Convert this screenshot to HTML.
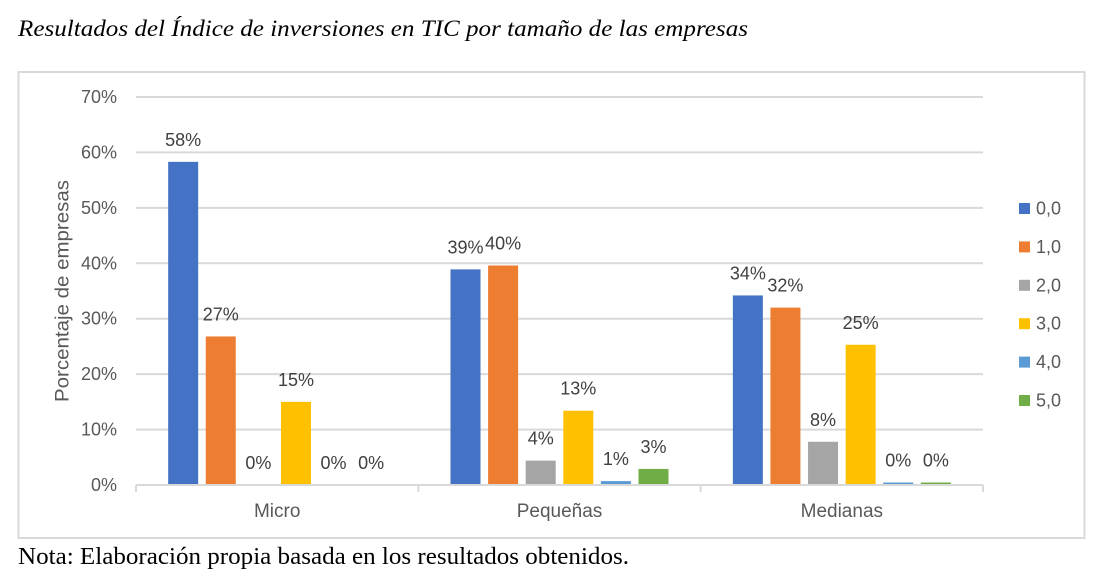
<!DOCTYPE html>
<html lang="es">
<head>
<meta charset="utf-8">
<title>Resultados del Índice de inversiones en TIC</title>
<style>
html,body{margin:0;padding:0;background:#fff;width:1094px;height:582px;overflow:hidden}
svg{display:block}
.sans{font-family:"Liberation Sans",sans-serif}
.serif{font-family:"Liberation Serif",serif}
</style>
</head>
<body>
<svg id="chart" width="1094" height="582" viewBox="0 0 1094 582" xmlns="http://www.w3.org/2000/svg">
  <text class="serif" x="18" y="36" font-size="23.5" font-style="italic" fill="#000" textLength="730" lengthAdjust="spacingAndGlyphs">Resultados del Índice de inversiones en TIC por tamaño de las empresas</text>
  <rect x="18.5" y="72" width="1066" height="466" fill="#fff" stroke="#d9d9d9" stroke-width="2"/>
  <g id="grid"></g>
  <g id="bars"></g>
  <g id="labels"></g>
  <g id="axis"></g>
  <g id="legend"></g>
  <text class="sans" transform="translate(68.5,291) rotate(-90)" text-anchor="middle" font-size="19" fill="#595959" textLength="222" lengthAdjust="spacingAndGlyphs">Porcentaje de empresas</text>
  <text class="serif" x="18" y="564" font-size="24" fill="#000" textLength="611" lengthAdjust="spacingAndGlyphs">Nota: Elaboración propia basada en los resultados obtenidos.</text>
</svg>
<script>
const categories = ['Micro', 'Pequeñas', 'Medianas'];
const seriesNames = ['0,0', '1,0', '2,0', '3,0', '4,0', '5,0'];
const seriesColors = ['#4472c4', '#ed7d31', '#a5a5a5', '#ffc000', '#5b9bd5', '#70ad47'];
const series0 = [58.3, 38.9, 34.2];
const series1 = [26.8, 39.6, 32.0];
const series2 = [0, 4.4, 7.8];
const series3 = [15.0, 13.4, 25.3];
const series4 = [0, 0.7, 0.45];
const series5 = [0, 2.9, 0.45];
const yTicks = [0, 10, 20, 30, 40, 50, 60, 70];

const allSeries = [series0, series1, series2, series3, series4, series5];
const NS = 'http://www.w3.org/2000/svg';
const plot = {left: 136, right: 983, top: 97, bottom: 485, max: 70};
const y = v => plot.bottom - (v / plot.max) * (plot.bottom - plot.top);
const catW = (plot.right - plot.left) / categories.length;
const barStep = 37.6;
const barW = 30;
const barX = (c, s) => plot.left + catW * (c + 0.5) + (s - (seriesNames.length - 1) / 2) * barStep - barW / 2;

function make(tag, attrs, parent, txt) {
  const el = document.createElementNS(NS, tag);
  for (const k in attrs) el.setAttribute(k, attrs[k]);
  if (txt !== undefined) el.textContent = txt;
  parent.appendChild(el);
  return el;
}
const sans = '"Liberation Sans",sans-serif';
const gridG = document.getElementById('grid');
const barsG = document.getElementById('bars');
const labelsG = document.getElementById('labels');
const axisG = document.getElementById('axis');
const legendG = document.getElementById('legend');

yTicks.forEach(t => {
  if (t > 0) {
    const line = make('line', {x1: plot.left, x2: plot.right, y1: y(t), y2: y(t), stroke: '#d9d9d9', 'stroke-width': 2}, gridG);
    
    
  }
  const label = make('text', {x: 117, y: y(t) + 6, 'text-anchor': 'end', 'font-size': 18, 'font-family': sans, fill: '#595959'}, axisG, t + '%');
  
  
});

const baseLine = make('line', {x1: plot.left, x2: plot.right, y1: plot.bottom, y2: plot.bottom, stroke: '#d9d9d9', 'stroke-width': 2}, axisG);



for (let i = 0; i <= categories.length; i++) {
  const tx = plot.left + catW * i;
  const tick = make('line', {x1: tx, x2: tx, y1: plot.bottom, y2: plot.bottom + 7, stroke: '#d9d9d9', 'stroke-width': 2}, axisG);
  
  
}

categories.forEach((c, i) => {
  const label = make('text', {x: plot.left + catW * (i + 0.5), y: 517, 'text-anchor': 'middle', 'font-size': 19, 'font-family': sans, fill: '#595959'}, axisG, c);
  
  
});

allSeries.forEach((vals, s) => {
  vals.forEach((v, c) => {
    const x = barX(c, s);
    if (v > 0) {
      const bar = make('rect', {x: x, y: y(v), width: barW, height: plot.bottom - y(v) - 1, fill: seriesColors[s]}, barsG);
      
      
    }
    const lab = make('text', {x: x + barW / 2, y: y(v) - 16, 'text-anchor': 'middle', 'font-size': 18, 'font-family': sans, fill: '#404040'}, labelsG, Math.round(v) + '%');
    
    
  });
});

seriesNames.forEach((n, i) => {
  const ly = 208.5 + i * 38.4;
  const key = make('rect', {x: 1019, y: ly - 5.5, width: 11, height: 11, fill: seriesColors[i]}, legendG);
  
  
  const lt = make('text', {x: 1036, y: ly + 6, 'font-size': 18, 'font-family': sans, fill: '#595959'}, legendG, n);
  
  
});
</script>
</body>
</html>
